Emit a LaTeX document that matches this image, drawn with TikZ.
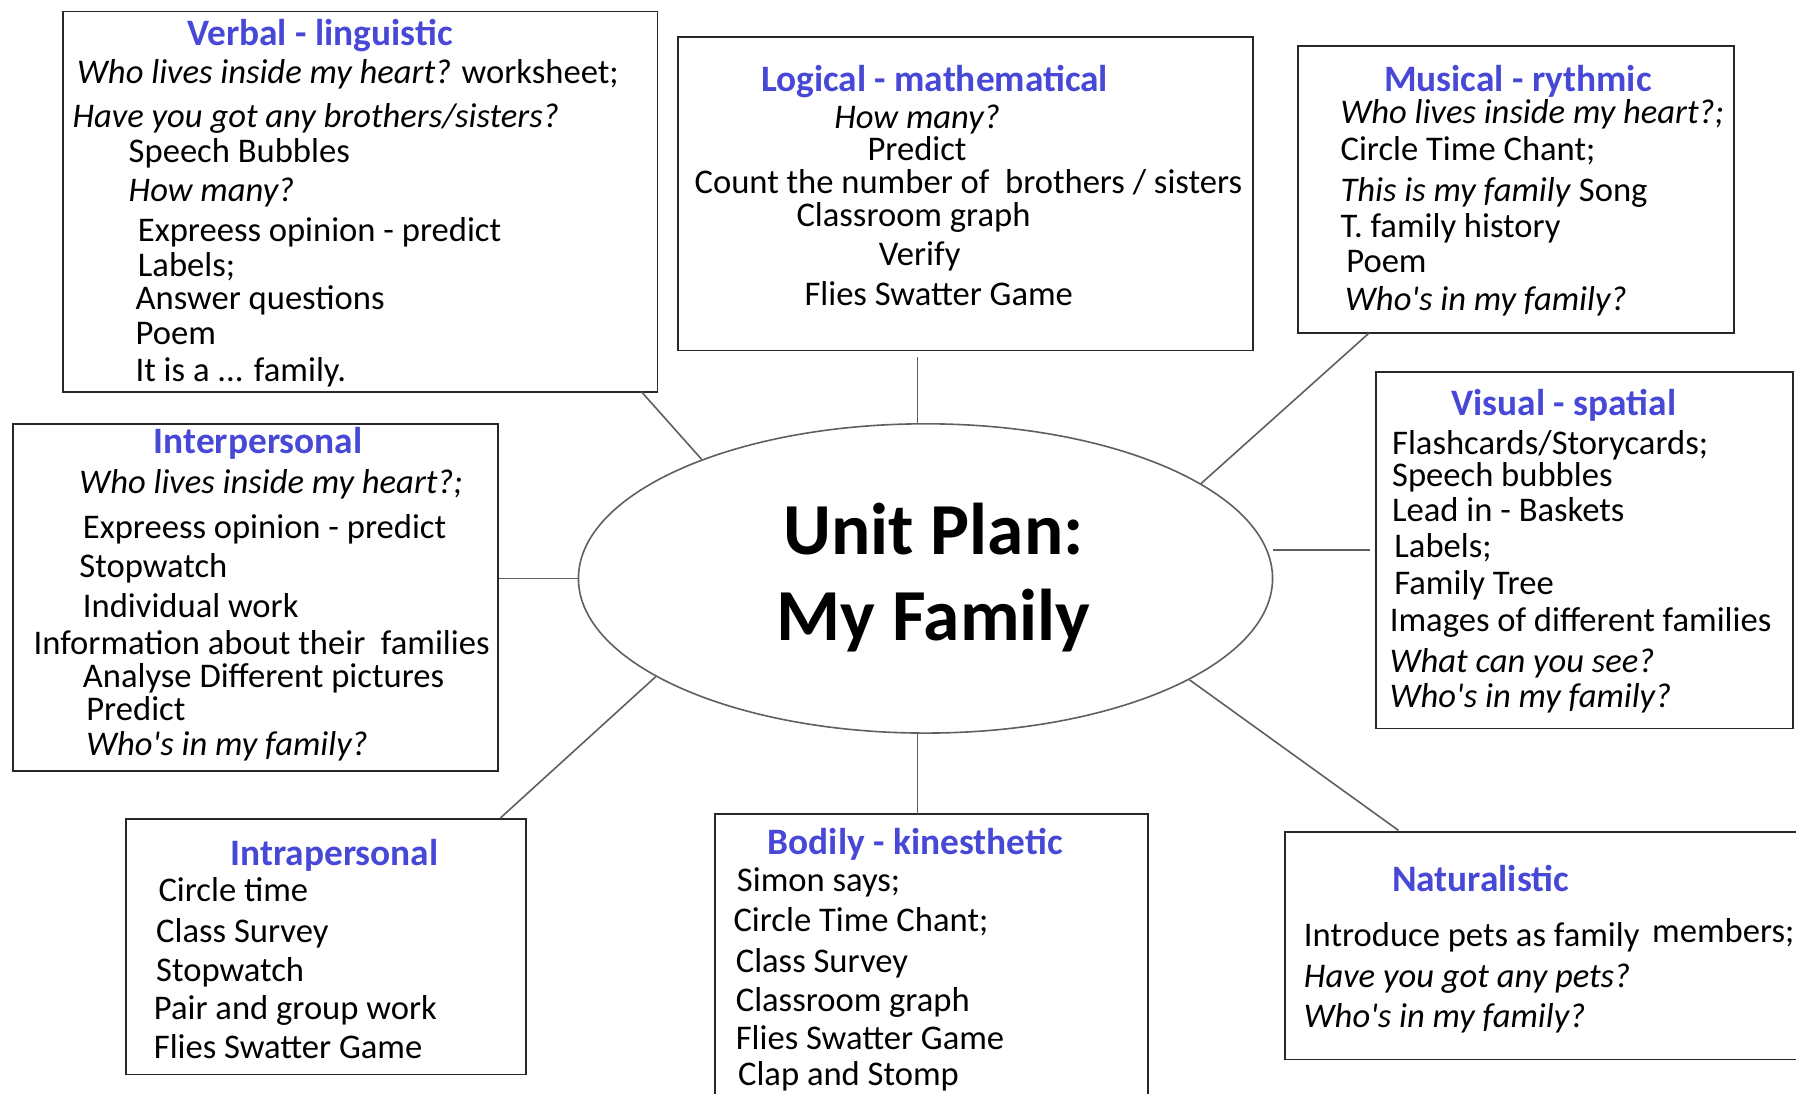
\documentclass[tikz,border=0pt]{standalone}
\usepackage{fontspec}
\setmainfont{Carlito}[Ligatures=TeXOff]
\usetikzlibrary{shapes.geometric,fit}
\definecolor{headblue}{RGB}{72,72,215}
\definecolor{linegray}{RGB}{95,95,95}
\definecolor{boxline}{RGB}{40,40,40}
\begin{document}
\begin{tikzpicture}[x=0.5pt,y=-0.5pt,
  box/.style={draw=boxline, line width=0.8pt, inner sep=0pt},
  txt/.style={anchor=base west, inner sep=0pt, font=\fontsize{15.1}{17}\selectfont},
  head/.style={anchor=base west, inner sep=0pt, font=\fontsize{16.3}{18}\selectfont\bfseries, text=headblue},
  conn/.style={draw=linegray, line width=0.7pt}]
\useasboundingbox (0,0) rectangle (1568,955);

% boxes
\node[box, fit={(55,10) (574,342)}] (verbal) {};
\node[box, fit={(592,32) (1094,306)}] (logical) {};
\node[box, fit={(1133,40) (1514,291)}] (musical) {};
\node[box, fit={(11,370) (435,673)}] (inter) {};
\node[box, fit={(1201,325) (1565,636)}] (visual) {};
\node[box, fit={(110,715) (459,938)}] (intra) {};
\node[box, fit={(624,711) (1002,980)}] (bodily) {};
\node[box, fit={(1122,726) (1590,925)}] (natural) {};

% center ellipse
\node[draw=linegray, line width=0.7pt, ellipse, inner sep=0pt, minimum width=303pt, minimum height=135pt] (ell) at (808,505) {};
\node[font=\fontsize{32}{37.5}\selectfont\bfseries, align=center, inner sep=0pt] (title) at (815,504) {Unit Plan:\\My Family};

\begin{scope}[yshift=-1pt]
% Verbal
\node[head] (v0) at (163,38) {Verbal - linguistic};
\node[txt] (v1) at (67,71) {\textit{Who lives inside my heart?} worksheet;};
\node[txt] (v2) at (63,109) {\textit{Have you got any brothers/sisters?}};
\node[txt] (v3) at (112,140) {Speech Bubbles};
\node[txt] (v4) at (112,174) {\textit{How many?}};
\node[txt] (v5) at (120,209) {Expreess opinion - predict};
\node[txt] (v6) at (120,239) {Labels;};
\node[txt] (v7) at (118,268) {Answer questions};
\node[txt] (v8) at (118,299) {Poem};
\node[txt] (v9) at (118,331) {It is a ... family.};

% Logical
\node[head] (l0) at (664,78) {Logical - mathematical};
\node[txt] (l1) at (728,110) {\textit{How many?}};
\node[txt] (l2) at (757,138) {Predict};
\node[txt] (l3) at (606,167) {Count the number of\ \ brothers / sisters};
\node[txt] (l4) at (695,196) {Classroom graph};
\node[txt] (l5) at (767,230) {Verify};
\node[txt] (l6) at (702,265) {Flies Swatter Game};

% Musical
\node[head] (m0) at (1208,78) {Musical - rythmic};
\node[txt] (m1) at (1170,106) {\textit{Who lives inside my heart?;}};
\node[txt] (m2) at (1170,138) {Circle Time Chant;};
\node[txt] (m3) at (1170,174) {\textit{This is my family} Song};
\node[txt] (m4) at (1170,205) {T. family history};
\node[txt] (m5) at (1175,236) {Poem};
\node[txt] (m6) at (1174,269) {\textit{Who's in my family?}};

% Interpersonal
\node[head] (i0) at (134,394) {Interpersonal};
\node[txt] (i1) at (69,429) {\textit{Who lives inside my heart?;}};
\node[txt] (i2) at (72,468) {Expreess opinion - predict};
\node[txt] (i3) at (69,502) {Stopwatch};
\node[txt] (i4) at (72,537) {Individual work};
\node[txt] (i5) at (29,569) {Information about their\ \ families};
\node[txt] (i6) at (72,598) {Analyse Different pictures};
\node[txt] (i7) at (75,627) {Predict};
\node[txt] (i8) at (75,658) {\textit{Who's in my family?}};

% Visual
\node[head] (s0) at (1267,361) {Visual - spatial};
\node[txt] (s1) at (1215,395) {Flashcards/Storycards;};
\node[txt] (s2) at (1215,423) {Speech bubbles};
\node[txt] (s3) at (1215,453) {Lead in - Baskets};
\node[txt] (s4) at (1217,485) {Labels;};
\node[txt] (s5) at (1217,517) {Family Tree};
\node[txt] (s6) at (1213,549) {Images of different families};
\node[txt] (s7) at (1213,585) {\textit{What can you see?}};
\node[txt] (s8) at (1213,616) {\textit{Who's in my family?}};

% Intrapersonal
\node[head] (t0) at (201,754) {Intrapersonal};
\node[txt] (t1) at (138,785) {Circle time};
\node[txt] (t2) at (136,821) {Class Survey};
\node[txt] (t3) at (136,855) {Stopwatch};
\node[txt] (t4) at (134,888) {Pair and group work};
\node[txt] (t5) at (134,922) {Flies Swatter Game};

% Bodily
\node[head] (b0) at (670,744) {Bodily - kinesthetic};
\node[txt] (b1) at (643,776) {Simon says;};
\node[txt] (b2) at (640,811) {Circle Time Chant;};
\node[txt] (b3) at (642,847) {Class Survey};
\node[txt] (b4) at (642,881) {Classroom graph};
\node[txt] (b5) at (642,914) {Flies Swatter Game};
\node[txt] (b6) at (644,946) {Clap and Stomp};

% Naturalistic
\node[head] (n0) at (1215,776) {Naturalistic};
\node[txt] (n1) at (1138,824) {Introduce pets as family};
\node[txt] (n1b) at (1442,821) {members;};
\node[txt] (n2) at (1138,860) {\textit{Have you got any pets?}};
\node[txt] (n3) at (1138,895) {\textit{Who's in my family?}};
\end{scope}

% connectors
\coordinate (cv) at (560,342);
\coordinate (cl) at (801,312);
\coordinate (cm) at (1195,291);
\coordinate (cs) at (1196,480);
\coordinate (ci) at (437,714);
\coordinate (cb) at (801,711);
\coordinate (cn) at (1221,725);
\draw[conn] (cv) -- (ell.152);
\draw[conn] (cl) -- (cl |- ell.north);
\draw[conn] (cm) -- (ell.19.7);
\draw[conn] (ell.east |- cs) -- (cs);
\draw[conn] (ell.west) -- (ell.west -| inter.east);
\draw[conn] (ell.200.6) -- (ci);
\draw[conn] (cb |- ell.south) -- (cb);
\draw[conn] (ell.339.9) -- (cn);
\end{tikzpicture}
\end{document}
